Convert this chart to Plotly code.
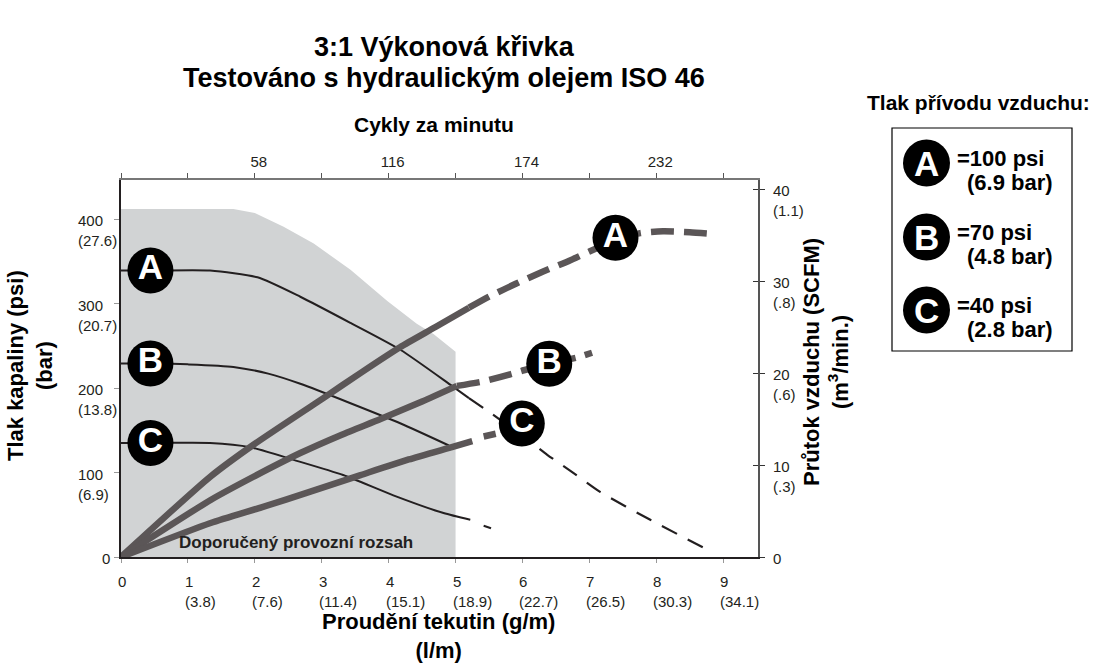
import plotly.graph_objects as go

FONT = "Liberation Sans, Arial, Helvetica, sans-serif"
INK = "#231f20"
FLOW_GRAY = "#5b5657"
SHADE = "#d1d3d4"

# ---- axis scales -------------------------------------------------------
flow_gpm_ticks = [0, 1, 2, 3, 4, 5, 6, 7, 8, 9]
flow_lpm_text = ["", "(3.8)", "(7.6)", "(11.4)", "(15.1)", "(18.9)",
                 "(22.7)", "(26.5)", "(30.3)", "(34.1)"]
psi_ticks = [0, 100, 200, 300, 400]
bar_text = ["", "(6.9)", "(13.8)", "(20.7)", "(27.6)"]
scfm_ticks = [0, 10, 20, 30, 40]
m3min_text = ["", "(.3)", "(.6)", "(.8)", "(1.1)"]
cycle_labels = [58, 116, 174, 232]
CYCLE_STEP = 29
CYCLES_PER_GPM = 29
GPM_MAX = 9.52
PSI_MAX = 446.2
SCFM_MAX = 40.98

# ---- recommended operating range (shaded) ------------------------------
range_gpm = [0, 1.68, 2.0, 2.43, 2.88, 3.43, 3.98, 4.42, 4.67, 5.0, 5.0, 0]
range_psi = [412, 412, 407, 391, 371, 340, 303, 276, 264, 243, 0, 0]

# ---- fluid outlet pressure (psi) ----------------------------------------
press_a_gpm = [0, 0.5, 1.33, 2.04, 2.68, 3.43, 4.18, 4.92, 5.2]
press_a_psi = [339, 339, 339, 331, 308, 277, 245, 204, 188]
press_a_ext_gpm = [5.2, 5.57, 6.17, 6.37, 6.77, 7.16, 7.91, 8.83]
press_a_ext_psi = [188, 168, 133, 121, 99, 77, 44, 6]

press_b_gpm = [0, 0.5, 1.0, 1.68, 2.2, 2.68, 3.43, 4.18, 4.9]
press_b_psi = [229, 229, 228, 225, 217, 205, 182, 158, 132]

press_c_gpm = [0, 0.5, 1.33, 1.93, 2.58, 3.32, 4.07, 4.82, 5.22]
press_c_psi = [135, 135, 135, 130, 115, 97, 73, 52, 44]
press_c_ext_gpm = [5.42, 5.53]
press_c_ext_psi = [37, 34]

# ---- air consumption (SCFM) --------------------------------------------
air_a_gpm = [0, 1.33, 1.98, 3.03, 3.6, 4.17, 4.7, 5.2]
air_a_scfm = [0, 8.7, 12.2, 17.3, 20.1, 22.8, 25.0, 27.1]
air_a_ext_gpm = [5.2, 5.5, 5.9, 6.3, 6.7, 7.0, 7.39, 7.76, 8.1, 8.5, 8.86]
air_a_ext_scfm = [27.1, 28.3, 29.7, 31.0, 32.2, 33.2, 34.4, 35.2, 35.4, 35.3, 35.1]

air_b_gpm = [0, 1.34, 2.0, 2.68, 3.3, 3.88, 4.5, 5.02]
air_b_scfm = [0, 6.2, 8.8, 11.3, 13.3, 15.0, 16.9, 18.6]
air_b_ext_gpm = [5.02, 5.42, 5.84, 6.02, 6.4, 6.82, 7.04]
air_b_ext_scfm = [18.6, 19.1, 19.9, 20.3, 21.0, 21.7, 22.2]

air_c_gpm = [0, 1.34, 2.1, 2.83, 3.58, 4.3, 4.97, 5.25]
air_c_scfm = [0, 3.7, 5.4, 7.1, 8.9, 10.6, 12.0, 12.6]
air_c_ext_gpm = [5.42, 5.6]
air_c_ext_scfm = [13.1, 13.4]

# ---- curve labels --------------------------------------------------------
letters = ["A", "B", "C"]
press_label_gpm = [0.44, 0.44, 0.44]
press_label_psi = [339, 229, 135]
air_label_gpm = [7.39, 6.40, 5.99]
air_label_scfm = [34.7, 21.0, 14.5]
supply_psi = ["=100 psi", "=70 psi", "=40 psi"]
supply_bar = ["(6.9 bar)", "(4.8 bar)", "(2.8 bar)"]
title_lines = ["3:1 Výkonová křivka", "Testováno s hydraulickým olejem ISO 46"]

# ---- plot frame in pixels (used for placing titles and the key) --------
W, H = 1093, 664
PL, PR, PT, PB = 121, 758, 180, 557


def paper_x(px):
    return (px - PL) / (PR - PL)


def paper_y(py):
    return (PB - py) / (PB - PT)


fig = go.Figure()

# shaded operating range
fig.add_trace(go.Scatter(x=range_gpm, y=range_psi, fill="toself", fillcolor=SHADE,
                         mode="lines", line=dict(width=0), hoverinfo="skip"))

# pressure curves (thin)
thin = dict(color=INK, width=2, shape="spline", smoothing=0.6)
for gx, gy in [(press_a_gpm, press_a_psi), (press_b_gpm, press_b_psi),
               (press_c_gpm, press_c_psi), (press_c_ext_gpm, press_c_ext_psi)]:
    fig.add_trace(go.Scatter(x=gx, y=gy, mode="lines", line=thin))
fig.add_trace(go.Scatter(x=press_a_ext_gpm, y=press_a_ext_psi, mode="lines",
                         line=dict(color=INK, width=2.2, dash="17px,12px",
                                   shape="spline", smoothing=0.6)))

label_marker = dict(size=46, color="#000000")
label_font = dict(family=FONT, size=35, color="white", weight="bold")

# pressure labels at left
fig.add_trace(go.Scatter(x=press_label_gpm, y=press_label_psi, mode="markers+text",
                         text=letters, textposition="middle center",
                         marker=label_marker, textfont=label_font))

# air consumption curves (thick), on the right axis
thick = dict(color=FLOW_GRAY, width=6.5, shape="spline", smoothing=0.6)
thick_dash = dict(color=FLOW_GRAY, width=6.5, dash="23px,10px", shape="spline", smoothing=0.6)
for gx, gy in [(air_a_gpm, air_a_scfm), (air_b_gpm, air_b_scfm),
               (air_c_gpm, air_c_scfm), (air_c_ext_gpm, air_c_ext_scfm)]:
    fig.add_trace(go.Scatter(x=gx, y=gy, yaxis="y2", mode="lines", line=thick))
for gx, gy in [(air_a_ext_gpm, air_a_ext_scfm), (air_b_ext_gpm, air_b_ext_scfm)]:
    fig.add_trace(go.Scatter(x=gx, y=gy, yaxis="y2", mode="lines", line=thick_dash))

fig.add_trace(go.Scatter(x=air_label_gpm, y=air_label_scfm, yaxis="y2", mode="markers+text",
                         text=letters, textposition="middle center",
                         marker=label_marker, textfont=label_font))

# carriers for the top cycle axis and the inner right ticks
fig.add_trace(go.Scatter(x=[0, CYCLE_STEP * 9], y=[0, 0], xaxis="x2", mode="lines",
                         line=dict(width=0), opacity=0, hoverinfo="skip"))
fig.add_trace(go.Scatter(x=[0, 1], y=[0, 0], yaxis="y3", mode="lines",
                         line=dict(width=0), opacity=0, hoverinfo="skip"))

ann = []
tick_font = dict(family=FONT, size=15, color=INK)

# bottom tick labels: gpm over l/min
for g, l in zip(flow_gpm_ticks, flow_lpm_text):
    ann.append(dict(x=g, y=0, xref="x", yref="y", text=f"{g}<br>{l}" if l else f"{g}",
                    xanchor="left", yanchor="top", xshift=-5, yshift=-14,
                    align="left", showarrow=False, font=tick_font))

# left tick labels: psi over bar
for p, b in zip(psi_ticks, bar_text):
    if b:
        ann.append(dict(x=0, y=p, xref="paper", yref="y", text=f"{p}<br>{b}",
                        xanchor="left", yanchor="top", xshift=-45, yshift=9,
                        align="left", showarrow=False, font=tick_font))
    else:
        ann.append(dict(x=0, y=p, xref="paper", yref="y", text=f"{p}",
                        xanchor="right", yanchor="middle", xshift=-9, yshift=-1,
                        showarrow=False, font=tick_font))

# right tick labels: SCFM over m3/min
for s, m in zip(scfm_ticks, m3min_text):
    if m:
        ann.append(dict(x=1, y=s, xref="paper", yref="y2", text=f"{s}<br>{m}",
                        xanchor="left", yanchor="top", xshift=13, yshift=9,
                        align="left", showarrow=False, font=tick_font))
    else:
        ann.append(dict(x=1, y=s, xref="paper", yref="y2", text=f"{s}",
                        xanchor="left", yanchor="middle", xshift=13, yshift=-1,
                        showarrow=False, font=tick_font))

bold21 = dict(family=FONT, size=21, color="#000000", weight="bold")
bold22 = dict(family=FONT, size=22, color="#000000", weight="bold")
title_font = dict(family=FONT, size=27, color="#000000", weight="bold")

# chart title, two lines
for line, cy in zip(title_lines, [47, 78]):
    ann.append(dict(x=paper_x(444), y=paper_y(cy), xref="paper", yref="paper",
                    text=line, showarrow=False, xanchor="center", yanchor="middle",
                    font=title_font))

# axis titles
ann.append(dict(x=paper_x(434), y=paper_y(125), xref="paper", yref="paper",
                text="Cykly za minutu", showarrow=False, font=bold21,
                xanchor="center", yanchor="middle"))
ann.append(dict(x=paper_x(438), y=paper_y(636), xref="paper", yref="paper",
                text="Proudění tekutin (g/m)<br>(l/m)", showarrow=False, font=bold22,
                xanchor="center", yanchor="middle"))
ann.append(dict(x=paper_x(30), y=paper_y(366), xref="paper", yref="paper",
                text="Tlak kapaliny (psi)<br>(bar)", showarrow=False, font=bold22,
                textangle=-90, xanchor="center", yanchor="middle"))
ann.append(dict(x=paper_x(826), y=paper_y(362), xref="paper", yref="paper",
                text="Průtok vzduchu (SCFM)<br>(m<sup>3</sup>/min.)", showarrow=False,
                font=bold22, textangle=-90, xanchor="center", yanchor="middle"))

# operating range caption
ann.append(dict(x=2.62, y=17, xref="x", yref="y", text="Doporučený provozní rozsah",
                showarrow=False, font=dict(family=FONT, size=17, color=INK, weight="bold")))

# supply pressure key
shapes = [dict(type="rect", xref="paper", yref="paper",
               x0=paper_x(892), x1=paper_x(1072), y0=paper_y(351), y1=paper_y(128),
               line=dict(color="#000000", width=1.2), fillcolor="white")]
ann.append(dict(x=paper_x(978.5), y=paper_y(103), xref="paper", yref="paper",
                text="Tlak přívodu vzduchu:", showarrow=False, font=bold21,
                xanchor="center", yanchor="middle"))
key_rows_y = [163, 237, 310]
for letter, ps, br, cy in zip(letters, supply_psi, supply_bar, key_rows_y):
    shapes.append(dict(type="circle", xref="paper", yref="paper",
                       xsizemode="pixel", ysizemode="pixel",
                       xanchor=paper_x(926.5), yanchor=paper_y(cy),
                       x0=-23.5, x1=23.5, y0=-23.5, y1=23.5,
                       fillcolor="#000000", line=dict(width=0)))
    ann.append(dict(x=paper_x(926.5), y=paper_y(cy), xref="paper", yref="paper",
                    text=letter, showarrow=False, xanchor="center", yanchor="middle",
                    font=label_font))
    ann.append(dict(x=paper_x(955), y=paper_y(cy - 5), xref="paper", yref="paper",
                    text=ps, showarrow=False, xanchor="left", yanchor="middle",
                    font=bold22))
    ann.append(dict(x=paper_x(965), y=paper_y(cy + 19), xref="paper", yref="paper",
                    text=br, showarrow=False, xanchor="left", yanchor="middle",
                    font=bold22))

fig.update_layout(
    width=W, height=H,
    margin=dict(l=PL, r=W - PR, t=PT, b=H - PB, pad=0),
    paper_bgcolor="white", plot_bgcolor="white",
    showlegend=False,
    font=dict(family=FONT, color=INK),
    xaxis=dict(range=[0, GPM_MAX], showgrid=False, zeroline=False,
               showline=True, linecolor=INK, linewidth=1.5,
               ticks="outside", ticklen=4, tickcolor="#999999", tickwidth=1,
               tickvals=flow_gpm_ticks, showticklabels=False),
    xaxis2=dict(overlaying="x", side="top", range=[0, GPM_MAX * CYCLES_PER_GPM],
                showgrid=False, zeroline=False, showline=True, linecolor="#777777",
                linewidth=1.5, ticks="outside", ticklen=5, tickcolor="#555555",
                tickvals=cycle_labels, ticklabelshift=4, tickfont=tick_font,
                minor=dict(ticks="outside", tick0=0, dtick=CYCLE_STEP, ticklen=5,
                           tickcolor="#555555")),
    yaxis=dict(range=[0, PSI_MAX], showgrid=False, zeroline=False,
               showline=True, linecolor=INK, linewidth=1.5,
               ticks="outside", ticklen=5, tickcolor="#999999",
               tickvals=psi_ticks, showticklabels=False),
    yaxis2=dict(overlaying="y", side="right", range=[0, SCFM_MAX], showgrid=False,
                zeroline=False, showline=True, linecolor="#555555", linewidth=2,
                ticks="outside", ticklen=5, tickcolor="#333333",
                tickvals=scfm_ticks, showticklabels=False),
    yaxis3=dict(overlaying="y", side="right", range=[0, SCFM_MAX], showgrid=False,
                zeroline=False, showline=False, ticks="inside", ticklen=5,
                tickcolor="#333333", tickvals=scfm_ticks, showticklabels=False),
    annotations=ann,
    shapes=shapes,
)

fig.write_html("out.html")
